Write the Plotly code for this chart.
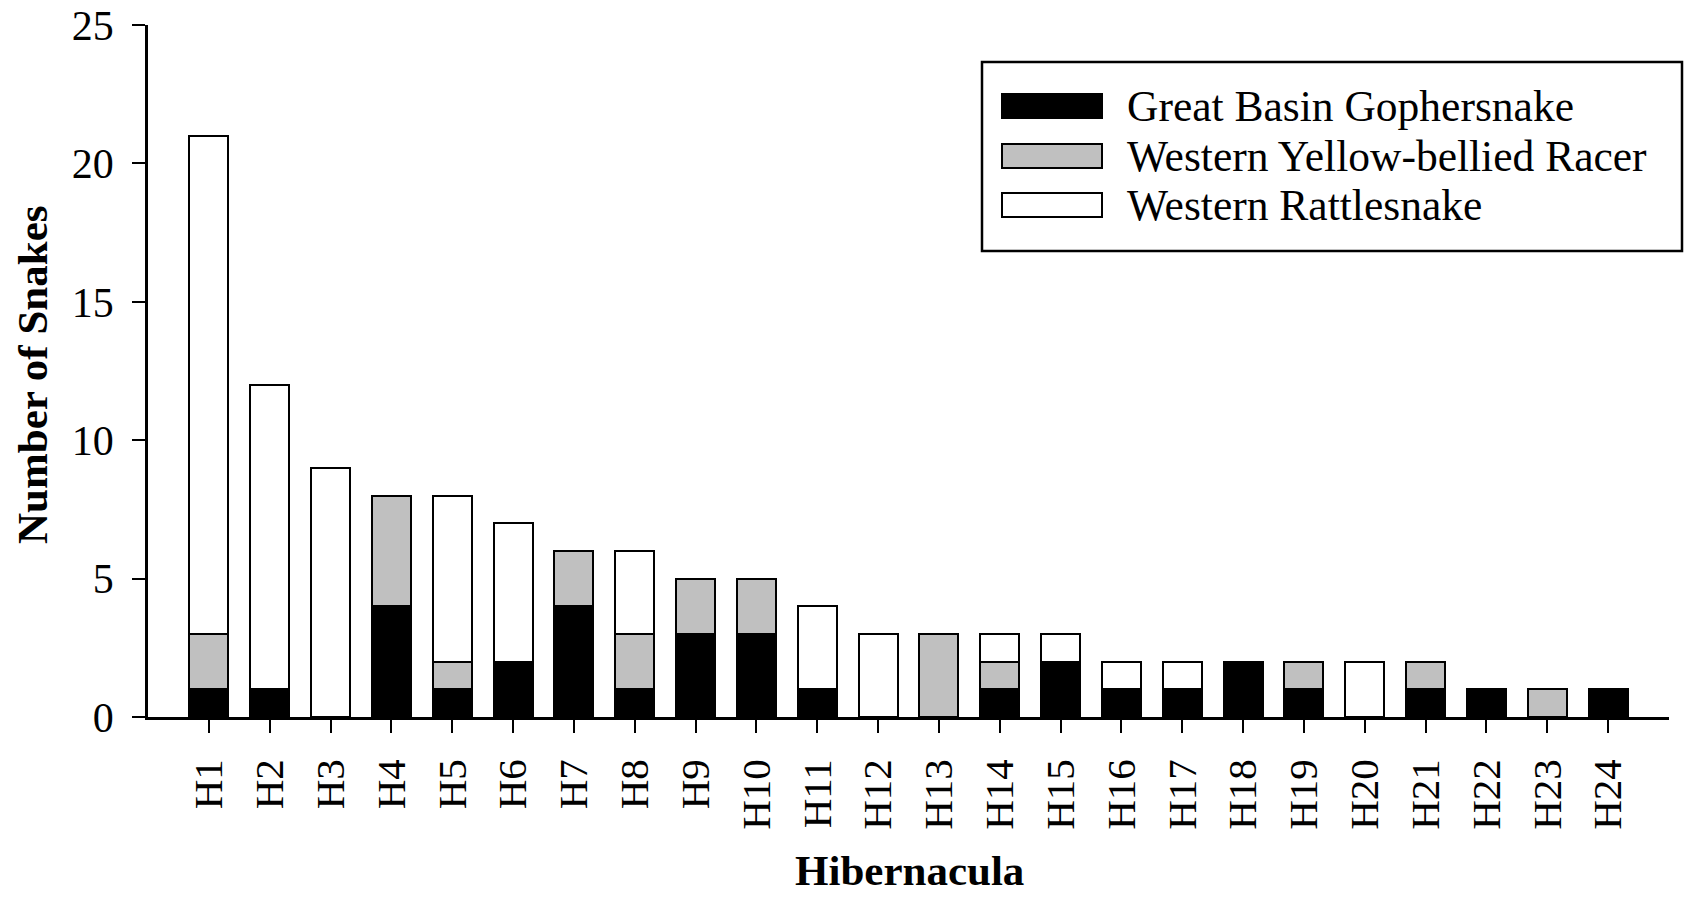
import plotly.graph_objects as go

categories = [f"H{i}" for i in range(1, 25)]
gophersnake = [1, 1, 0, 4, 1, 2, 4, 1, 3, 3, 1, 0, 0, 1, 2, 1, 1, 2, 1, 0, 1, 1, 0, 1]
racer = [2, 0, 0, 4, 1, 0, 2, 2, 2, 2, 0, 0, 3, 1, 0, 0, 0, 0, 1, 0, 1, 0, 1, 0]
rattlesnake = [18, 11, 9, 0, 6, 5, 0, 3, 0, 0, 3, 3, 0, 1, 1, 1, 1, 0, 0, 2, 0, 0, 0, 0]
series_names = ["Great Basin Gophersnake", "Western Yellow-bellied Racer", "Western Rattlesnake"]
series_colors = ["#000000", "#c0c0c0", "#ffffff"]
y_ticks = [0, 5, 10, 15, 20, 25]

FONT = "Liberation Serif, Times New Roman, serif"
W, H = 1684, 899
ML, MR, MT, MB = 148, 15, 25, 182
PW, PH = W - ML - MR, H - MT - MB


def px2x(px):
    return (px - ML) / PW


def px2y(py):
    return (H - MB - py) / PH


fig = go.Figure()
for name, vals, col in zip(series_names, [gophersnake, racer, rattlesnake], series_colors):
    fig.add_trace(go.Bar(
        x=categories, y=vals, name=name, width=0.64,
        marker=dict(color=col, line=dict(color="black", width=2)),
        showlegend=False,
    ))

fig.update_layout(
    width=W, height=H, barmode="stack",
    margin=dict(l=ML, r=MR, t=MT, b=MB, autoexpand=False),
    plot_bgcolor="white", paper_bgcolor="white",
    font=dict(family=FONT, color="black", size=41),
)
fig.update_xaxes(
    type="category", range=[-1, 24], tickangle=-90,
    ticks="outside", ticklen=13, tickwidth=2, tickcolor="black",
    showline=True, linewidth=2.5, linecolor="black", showgrid=False,
    tickfont=dict(size=41, family=FONT), ticklabelstandoff=10,
)
fig.update_yaxes(
    range=[0, 25], tickvals=y_ticks,
    ticks="outside", ticklen=13, tickwidth=2, tickcolor="black",
    showline=True, linewidth=2.5, linecolor="black", showgrid=False, zeroline=False,
    tickfont=dict(size=42, family=FONT), ticklabelstandoff=10,
)

# axis titles
fig.add_annotation(text="<b>Number of Snakes</b>", xref="paper", yref="paper",
                   x=px2x(32), y=px2y(375), xanchor="center", yanchor="middle",
                   textangle=-90, showarrow=False, font=dict(size=43, family=FONT))
fig.add_annotation(text="<b>Hibernacula</b>", xref="paper", yref="paper",
                   x=px2x(909), y=px2y(870), xanchor="center", yanchor="middle",
                   showarrow=False, font=dict(size=43, family=FONT))

# legend (drawn manually to match the reference box)
fig.add_shape(type="rect", xref="paper", yref="paper",
              x0=px2x(982), x1=px2x(1682), y0=px2y(251), y1=px2y(62),
              line=dict(color="black", width=2.5), fillcolor="white", layer="above")
row_centers = [106, 156, 205]
for name, col, yc in zip(series_names, series_colors, row_centers):
    fig.add_shape(type="rect", xref="paper", yref="paper",
                  x0=px2x(1002), x1=px2x(1102), y0=px2y(yc + 12), y1=px2y(yc - 12),
                  line=dict(color="black", width=2), fillcolor=col, layer="above")
    fig.add_annotation(text=name, xref="paper", yref="paper",
                       x=px2x(1125), y=px2y(yc), xanchor="left", yanchor="middle",
                       showarrow=False, font=dict(size=43.5, family=FONT))

fig.write_html("out.html")
